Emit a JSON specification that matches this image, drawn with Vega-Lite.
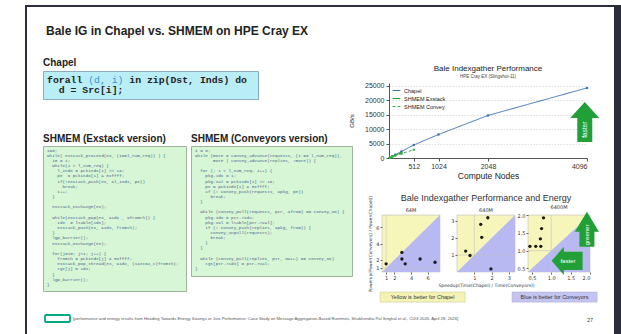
{
  "$schema": "https://vega.github.io/schema/vega-lite/v6.json",
  "background": "white",
  "padding": {"left": 25, "top": 5, "right": 0, "bottom": 0},
  "config": {
    "view": {"stroke": null},
    "font": "Liberation Sans",
    "title": {"color": "#222", "font": "Liberation Sans"},
    "axis": {"labelFont": "Liberation Sans", "titleFont": "Liberation Sans", "tickCount": 10},
    "legend": {"labelFont": "Liberation Sans"}
  },
  "datasets": {
    "perf": [
      {"series": "Chapel", "nodes": 16, "gbs": 130},
      {"series": "Chapel", "nodes": 32, "gbs": 270},
      {"series": "Chapel", "nodes": 64, "gbs": 560},
      {"series": "Chapel", "nodes": 128, "gbs": 1150},
      {"series": "Chapel", "nodes": 256, "gbs": 2250},
      {"series": "Chapel", "nodes": 512, "gbs": 4500},
      {"series": "Chapel", "nodes": 1024, "gbs": 8150},
      {"series": "Chapel", "nodes": 2048, "gbs": 14750},
      {"series": "Chapel", "nodes": 4096, "gbs": 24300},
      {"series": "SHMEM Exstack", "nodes": 16, "gbs": 120},
      {"series": "SHMEM Exstack", "nodes": 32, "gbs": 240},
      {"series": "SHMEM Exstack", "nodes": 64, "gbs": 480},
      {"series": "SHMEM Exstack", "nodes": 128, "gbs": 950},
      {"series": "SHMEM Exstack", "nodes": 256, "gbs": 1800},
      {"series": "SHMEM Convey", "nodes": 16, "gbs": 110},
      {"series": "SHMEM Convey", "nodes": 32, "gbs": 220},
      {"series": "SHMEM Convey", "nodes": 64, "gbs": 420},
      {"series": "SHMEM Convey", "nodes": 128, "gbs": 820},
      {"series": "SHMEM Convey", "nodes": 256, "gbs": 1500},
      {"series": "SHMEM Convey", "nodes": 512, "gbs": 2900}
    ],
    "ig": [
      {"panel": "64M", "speedup": 1.0, "powerup": 1.5},
      {"panel": "64M", "speedup": 2.9, "powerup": 2.9},
      {"panel": "64M", "speedup": 2.9, "powerup": 2.1},
      {"panel": "64M", "speedup": 3.3, "powerup": 1.5},
      {"panel": "64M", "speedup": 5.1, "powerup": 2.1},
      {"panel": "64M", "speedup": 6.9, "powerup": 1.7},
      {"panel": "640M", "speedup": 0.5, "powerup": 1.23},
      {"panel": "640M", "speedup": 0.75, "powerup": 0.97},
      {"panel": "640M", "speedup": 1.37, "powerup": 2.8},
      {"panel": "640M", "speedup": 1.43, "powerup": 2.04},
      {"panel": "640M", "speedup": 1.78, "powerup": 3.19},
      {"panel": "640M", "speedup": 1.96, "powerup": 0.18},
      {"panel": "6400M", "speedup": 0.45, "powerup": 1.12},
      {"panel": "6400M", "speedup": 0.6, "powerup": 1.12},
      {"panel": "6400M", "speedup": 0.73, "powerup": 1.12},
      {"panel": "6400M", "speedup": 0.72, "powerup": 1.33},
      {"panel": "6400M", "speedup": 0.75, "powerup": 1.62},
      {"panel": "6400M", "speedup": 0.8, "powerup": 1.92}
    ],
    "chapel_code": [
      {"line": 1, "col": 0, "role": "code", "code": "forall"},
      {"line": 1, "col": 7, "role": "index", "code": "(d, i)"},
      {"line": 1, "col": 14, "role": "code", "code": "in zip(Dst, Inds) do"},
      {"line": 2, "col": 2, "role": "code", "code": "d = Src[i];"}
    ],
    "exstack_code": [
      {"line": 1, "code": "i=0;"},
      {"line": 2, "code": "while( exstack_proceed(ex, (i==l_num_req)) ) {"},
      {"line": 3, "code": "\u200b\u00a0\u00a0i0 = i;"},
      {"line": 4, "code": "\u200b\u00a0\u00a0while(i < l_num_req) {"},
      {"line": 5, "code": "\u200b\u00a0\u00a0\u00a0\u00a0l_indx = pckindx[i] >> 16;"},
      {"line": 6, "code": "\u200b\u00a0\u00a0\u00a0\u00a0pe\u00a0\u00a0= pckindx[i] & 0xffff;"},
      {"line": 7, "code": "\u200b\u00a0\u00a0\u00a0\u00a0if(!exstack_push(ex, &l_indx, pe))"},
      {"line": 8, "code": "\u200b\u00a0\u00a0\u00a0\u00a0\u00a0\u00a0break;"},
      {"line": 9, "code": "\u200b\u00a0\u00a0\u00a0\u00a0i++;"},
      {"line": 10, "code": "\u200b\u00a0\u00a0}"},
      {"line": 12, "code": "\u200b\u00a0\u00a0exstack_exchange(ex);"},
      {"line": 14, "code": "\u200b\u00a0\u00a0while(exstack_pop(ex, &idx , &fromth)) {"},
      {"line": 15, "code": "\u200b\u00a0\u00a0\u00a0\u00a0idx\u00a0\u00a0= ltable[idx];"},
      {"line": 16, "code": "\u200b\u00a0\u00a0\u00a0\u00a0exstack_push(ex, &idx, fromth);"},
      {"line": 17, "code": "\u200b\u00a0\u00a0}"},
      {"line": 18, "code": "\u200b\u00a0\u00a0lgp_barrier();"},
      {"line": 19, "code": "\u200b\u00a0\u00a0exstack_exchange(ex);"},
      {"line": 21, "code": "\u200b\u00a0\u00a0for(j=i0; j<i; j++) {"},
      {"line": 22, "code": "\u200b\u00a0\u00a0\u00a0\u00a0fromth = pckindx[j] & 0xffff;"},
      {"line": 23, "code": "\u200b\u00a0\u00a0\u00a0\u00a0exstack_pop_thread(ex, &idx, (uint64_t)fromth);"},
      {"line": 24, "code": "\u200b\u00a0\u00a0\u00a0\u00a0tgt[j] = idx;"},
      {"line": 25, "code": "\u200b\u00a0\u00a0}"},
      {"line": 26, "code": "\u200b\u00a0\u00a0lgp_barrier();"},
      {"line": 27, "code": "}"}
    ],
    "conveyors_code": [
      {"line": 1, "code": "i = 0;"},
      {"line": 2, "code": "while (more = convey_advance(requests, (i == l_num_req)),"},
      {"line": 3, "code": "\u200b\u00a0\u00a0\u00a0\u00a0\u00a0\u00a0\u00a0more | convey_advance(replies, !more)) {"},
      {"line": 5, "code": "\u200b\u00a0\u00a0for (; i < l_num_req; i++) {"},
      {"line": 6, "code": "\u200b\u00a0\u00a0\u00a0\u00a0pkg.idx = i;"},
      {"line": 7, "code": "\u200b\u00a0\u00a0\u00a0\u00a0pkg.val = pckindx[i] >> 16;"},
      {"line": 8, "code": "\u200b\u00a0\u00a0\u00a0\u00a0pe = pckindx[i] & 0xffff;"},
      {"line": 9, "code": "\u200b\u00a0\u00a0\u00a0\u00a0if (! convey_push(requests, &pkg, pe))"},
      {"line": 10, "code": "\u200b\u00a0\u00a0\u00a0\u00a0\u00a0\u00a0break;"},
      {"line": 11, "code": "\u200b\u00a0\u00a0}"},
      {"line": 13, "code": "\u200b\u00a0\u00a0while (convey_pull(requests, ptr, &from) == convey_OK) {"},
      {"line": 14, "code": "\u200b\u00a0\u00a0\u00a0\u00a0pkg.idx = ptr->idx;"},
      {"line": 15, "code": "\u200b\u00a0\u00a0\u00a0\u00a0pkg.val = ltable[ptr->val];"},
      {"line": 16, "code": "\u200b\u00a0\u00a0\u00a0\u00a0if (! convey_push(replies, &pkg, from)) {"},
      {"line": 17, "code": "\u200b\u00a0\u00a0\u00a0\u00a0\u00a0\u00a0convey_unpull(requests);"},
      {"line": 18, "code": "\u200b\u00a0\u00a0\u00a0\u00a0\u00a0\u00a0break;"},
      {"line": 19, "code": "\u200b\u00a0\u00a0\u00a0\u00a0}"},
      {"line": 20, "code": "\u200b\u00a0\u00a0}"},
      {"line": 22, "code": "\u200b\u00a0\u00a0while (convey_pull(replies, ptr, NULL) == convey_OK)"},
      {"line": 23, "code": "\u200b\u00a0\u00a0\u00a0\u00a0tgt[ptr->idx] = ptr->val;"},
      {"line": 24, "code": "}"}
    ]
  },
  "bounds": "flush",
  "spacing": 0,
  "resolve": {"scale": {"color": "independent", "strokeDash": "independent"}, "legend": {"color": "independent", "strokeDash": "independent"}},
  "hconcat": [
    {
      "bounds": "flush",
      "spacing": 0,
      "vconcat": [
        {"width": 596, "height": 2, "view": {"fill": "#2b2d3a"}, "mark": "point", "data": {"values": []}},
        {
          "bounds": "flush",
          "spacing": 587,
          "hconcat": [
            {"width": 2, "height": 330, "view": {"fill": "#2b2d3a"}, "mark": "point", "data": {"values": []}},
            {"width": 7, "height": 330, "view": {"fill": "#2b2d3a"}, "mark": "point", "data": {"values": []}}
          ]
        }
      ]
    },
    {"width": 18, "height": 1, "mark": "point", "data": {"values": []}},
    {
      "bounds": "flush",
      "spacing": 0,
      "vconcat": [
        {
          "width": 270, "height": 52,
          "data": {"values": [{"t": "Bale IG in Chapel vs. SHMEM on HPE Cray EX"}]},
          "mark": {"type": "text", "align": "left", "baseline": "middle", "fontSize": 12, "fontWeight": "bold", "color": "#222", "dx": 3},
          "encoding": {"x": {"datum": 0, "scale": {"domain": [0, 1]}, "axis": null}, "text": {"field": "t"}}
        },
        {"width": 1, "height": 14, "mark": "point", "data": {"values": []}},
        {
          "width": 215, "height": 28,
          "view": {"fill": "#b9eef6", "stroke": "#8aaebd", "strokeWidth": 1},
          "title": {"text": "Chapel", "anchor": "start", "fontSize": 10, "fontWeight": "bold", "offset": 3},
          "data": {"name": "chapel_code"},
          "encoding": {
            "x": {"field": "col", "type": "quantitative", "scale": {"domain": [0, 36.56]}, "axis": null},
            "y": {"field": "line", "type": "quantitative", "scale": {"domain": [0.15, 2.95], "reverse": true}, "axis": null},
            "text": {"field": "code"}
          },
          "layer": [
            {
              "transform": [{"filter": "datum.role === 'code'"}],
              "mark": {"type": "text", "align": "left", "baseline": "middle", "font": "Liberation Mono", "fontSize": 9.8, "fontWeight": "bold", "color": "#222", "dx": 4}
            },
            {
              "transform": [{"filter": "datum.role === 'index'"}],
              "mark": {"type": "text", "align": "left", "baseline": "middle", "font": "Liberation Mono", "fontSize": 9.8, "fontWeight": "normal", "color": "#3b8fd9", "dx": 4}
            }
          ]
        },
        {"width": 1, "height": 47, "mark": "point", "data": {"values": []}},
        {
          "bounds": "flush",
          "spacing": 5,
          "hconcat": [
            {
              "width": 143, "height": 145,
              "view": {"fill": "#d6f6d6", "stroke": "#9db59d", "strokeWidth": 1},
              "title": {"text": "SHMEM (Exstack version)", "anchor": "start", "fontSize": 10, "fontWeight": "bold", "offset": 2},
              "data": {"name": "exstack_code"},
              "mark": {"type": "text", "align": "left", "baseline": "middle", "font": "Liberation Mono", "fontSize": 4.3, "color": "#4d5f8c", "dx": 4},
              "encoding": {
                "x": {"datum": 0, "scale": {"domain": [0, 1]}, "axis": null},
                "y": {"field": "line", "type": "quantitative", "scale": {"domain": [0.09, 28.19], "reverse": true}, "axis": null},
                "text": {"field": "code"}
              }
            },
            {
              "width": 161, "height": 130,
              "view": {"fill": "#d6f6d6", "stroke": "#9db59d", "strokeWidth": 1},
              "title": {"text": "SHMEM (Conveyors version)", "anchor": "start", "fontSize": 10, "fontWeight": "bold", "offset": 2},
              "data": {"name": "conveyors_code"},
              "mark": {"type": "text", "align": "left", "baseline": "middle", "font": "Liberation Mono", "fontSize": 4.3, "color": "#4d5f8c", "dx": 4},
              "encoding": {
                "x": {"datum": 0, "scale": {"domain": [0, 1]}, "axis": null},
                "y": {"field": "line", "type": "quantitative", "scale": {"domain": [0.09, 25.37], "reverse": true}, "axis": null},
                "text": {"field": "code"}
              }
            }
          ]
        },
        {"width": 1, "height": 169, "mark": "point", "data": {"values": []}},
        {
          "bounds": "flush",
          "spacing": 0,
          "hconcat": [
            {"width": 2, "height": 1, "mark": "point", "data": {"values": []}},
            {"width": 25, "height": 7, "view": {"stroke": "#01a982", "strokeWidth": 1.8, "cornerRadius": 1}, "mark": "point", "data": {"values": []}},
            {"width": 3, "height": 1, "mark": "point", "data": {"values": []}},
            {
              "width": 10, "height": 7,
              "data": {"values": [{"t": "[performance and energy results from Heading Towards Energy Savings or Just Performance: Case Study on Message Aggregation-Based Runtimes, Shubhendra Pal Singhal et al., CUG 2026, April 28, 2026]"}]},
              "mark": {"type": "text", "align": "left", "baseline": "middle", "fontSize": 4.2, "color": "#555"},
              "encoding": {"x": {"datum": 0, "scale": {"domain": [0, 1]}, "axis": null}, "text": {"field": "t"}}
            }
          ]
        }
      ]
    },
    {"width": 337, "height": 1, "mark": "point", "data": {"values": []}},
    {
      "bounds": "flush",
      "spacing": 0,
      "resolve": {"scale": {"color": "independent", "strokeDash": "independent"}, "legend": {"color": "independent", "strokeDash": "independent"}},
      "vconcat": [
        {"width": 1, "height": 78, "mark": "point", "data": {"values": []}},
        {
          "bounds": "flush",
          "spacing": 0,
          "resolve": {"scale": {"color": "independent", "strokeDash": "independent"}, "legend": {"color": "independent", "strokeDash": "independent"}},
          "hconcat": [
            {"width": 9, "height": 1, "mark": "point", "data": {"values": []}},
            {
              "width": 198, "height": 75,
              "title": {"text": "Bale Indexgather Performance", "subtitle": "HPE Cray EX (Slingshot-11)", "fontSize": 8, "fontWeight": "normal", "subtitleFontSize": 4.5, "subtitleColor": "#444", "subtitleFont": "Liberation Sans", "subtitlePadding": 1, "offset": 3, "anchor": "middle"},
              "layer": [
                {
                  "data": {"name": "perf"},
                  "mark": {"type": "line", "strokeWidth": 1, "point": {"filled": true, "size": 6}},
                  "encoding": {
                    "x": {"field": "nodes", "type": "quantitative", "scale": {"domain": [0, 4096], "nice": false},
                      "axis": {"values": [512, 1024, 2048, 4096], "tickCount": 10, "format": "d", "labelOverlap": false, "title": "Compute Nodes", "titleFontSize": 8.5, "titleFontWeight": "normal", "titleColor": "#222", "titlePadding": 2, "labelFontSize": 7, "labelColor": "#333", "labelPadding": 1, "tickSize": 3, "tickColor": "#555", "domainColor": "#555", "grid": false}},
                    "y": {"field": "gbs", "type": "quantitative", "scale": {"domain": [0, 26000], "nice": false},
                      "axis": {"values": [0, 5000, 10000, 15000, 20000, 25000], "tickCount": 10, "format": "d", "labelOverlap": false, "title": "GB/s", "titleFontSize": 6, "titleFontWeight": "normal", "titleColor": "#222", "titlePadding": 10, "labelFontSize": 7, "labelColor": "#333", "labelPadding": 2, "tickSize": 3, "tickColor": "#555", "domainColor": "#555", "grid": true, "gridColor": "#c8c8c8", "gridDash": [1.5, 1.5], "gridWidth": 0.6}},
                    "color": {"field": "series", "type": "nominal", "scale": {"domain": ["Chapel", "SHMEM Exstack", "SHMEM Convey"], "range": ["#3b73b5", "#1f9a2a", "#38b249"]},
                      "legend": {"title": null, "orient": "top-left", "offset": 3, "labelFontSize": 5.5, "labelColor": "#222", "symbolSize": 60, "symbolStrokeWidth": 1.2, "rowPadding": 0, "padding": 0, "labelOffset": 3, "symbolType": "stroke"}},
                    "strokeDash": {"field": "series", "type": "nominal", "scale": {"domain": ["Chapel", "SHMEM Exstack", "SHMEM Convey"], "range": [[1, 0], [1, 0], [3, 2]]},
                      "legend": {"title": null, "orient": "top-left", "offset": 3, "labelFontSize": 5.5, "labelColor": "#222", "symbolSize": 60, "symbolStrokeWidth": 1.2, "rowPadding": 0, "padding": 0, "labelOffset": 3, "symbolType": "stroke"}}
                  }
                },
                {
                  "data": {"values": [{}]},
                  "mark": {"type": "point", "shape": "M-0.375,1L0.375,1L0.375,-0.2L0.725,-0.2L0,-1L-0.725,-0.2L-0.375,-0.2Z", "size": 1600, "filled": true, "color": "#21a038", "opacity": 1, "strokeWidth": 0},
                  "encoding": {"x": {"datum": 4050}, "y": {"datum": 12480}}
                },
                {
                  "data": {"values": [{"t": "faster"}]},
                  "mark": {"type": "text", "angle": 270, "fontSize": 6.5, "color": "white", "align": "center", "baseline": "middle"},
                  "encoding": {"x": {"datum": 4050}, "y": {"datum": 9800}, "text": {"field": "t"}}
                }
              ]
            }
          ]
        },
        {"width": 1, "height": 132, "mark": "point", "data": {"values": []}},
        {
          "bounds": "flush",
          "spacing": 0,
          "hconcat": [
            {"width": 2, "height": 1, "mark": "point", "data": {"values": []}},
            {
              "width": 58, "height": 57,
              "view": {"fill": "#f6f5ba", "stroke": "#b0b0b0", "strokeWidth": 0.5},
              "layer": [
                {
                  "data": {"values": [{"d": 0.5}, {"d": 7.5}]},
                  "mark": {"type": "area", "color": "#b8b8f2", "opacity": 1},
                  "encoding": {
                    "x": {"field": "d", "type": "quantitative", "scale": {"domain": [0.5, 7.5], "nice": false, "zero": false},
                      "axis": {"values": [1, 2, 4, 6], "format": "d", "tickCount": 10, "title": null, "labelFontSize": 5, "labelFont": "DejaVu Sans", "labelColor": "#333", "tickSize": 2, "labelPadding": 1, "domain": false, "tickColor": "#666", "grid": false, "labelOverlap": false}},
                    "y": {"field": "d", "type": "quantitative", "scale": {"domain": [0.5, 7.5], "nice": false, "zero": false},
                      "axis": {"values": [1, 2, 4, 6], "format": "d", "tickCount": 10, "title": "Powerup(Power(Conveyors) / Power(Chapel))", "titleFontSize": 4.3, "titleFont": "DejaVu Sans", "titleFontWeight": "normal", "titleColor": "#333", "titlePadding": 3, "labelFontSize": 5, "labelFont": "DejaVu Sans", "labelColor": "#333", "tickSize": 2, "labelPadding": 1, "domain": false, "tickColor": "#666", "grid": false, "labelOverlap": false}},
                    "y2": {"datum": 0.5}
                  }
                },
                {"data": {"values": [{}]}, "mark": {"type": "rule", "color": "#c4c4c4", "strokeWidth": 0.6}, "encoding": {"x": {"datum": 1}}},
                {"data": {"values": [{}]}, "mark": {"type": "rule", "color": "#c4c4c4", "strokeWidth": 0.6}, "encoding": {"y": {"datum": 1}}},
                {
                  "data": {"name": "ig"},
                  "transform": [{"filter": "datum.panel === '64M'"}],
                  "mark": {"type": "circle", "size": 11, "color": "#1b1b1b", "opacity": 1},
                  "encoding": {"x": {"field": "speedup", "type": "quantitative"}, "y": {"field": "powerup", "type": "quantitative"}}
                },
                {
                  "data": {"values": [{"t": "64M"}]},
                  "mark": {"type": "text", "fontSize": 5, "font": "DejaVu Sans", "color": "#333", "align": "center", "baseline": "bottom", "dy": -2},
                  "encoding": {"x": {"datum": 4}, "y": {"datum": 7.5}, "text": {"field": "t"}}
                }
              ]
            },
            {"width": 17, "height": 1, "mark": "point", "data": {"values": []}},
            {
              "width": 58, "height": 57,
              "view": {"fill": "#f6f5ba", "stroke": "#b0b0b0", "strokeWidth": 0.5},
              "title": {"text": "Bale Indexgather Performance and Energy", "subtitle": "640M", "fontSize": 9, "fontWeight": "normal", "color": "#333", "subtitleFontSize": 5, "subtitleFont": "DejaVu Sans", "subtitleColor": "#333", "subtitlePadding": 5, "offset": 2, "anchor": "middle"},
              "layer": [
                {
                  "data": {"values": [{"d": 0}, {"d": 3.35}]},
                  "mark": {"type": "area", "color": "#b8b8f2", "opacity": 1},
                  "encoding": {
                    "x": {"field": "d", "type": "quantitative", "scale": {"domain": [0, 3.35], "nice": false, "zero": false},
                      "axis": {"values": [1, 2, 3], "format": "d", "tickCount": 10, "title": "Speedup(Time(Chapel) / Time(Conveyors))", "titleFontSize": 4.5, "titleFont": "DejaVu Sans", "titleFontWeight": "normal", "titleColor": "#333", "titlePadding": 2, "labelFontSize": 5, "labelFont": "DejaVu Sans", "labelColor": "#333", "tickSize": 2, "labelPadding": 1, "domain": false, "tickColor": "#666", "grid": false, "labelOverlap": false}},
                    "y": {"field": "d", "type": "quantitative", "scale": {"domain": [0, 3.35], "nice": false, "zero": false},
                      "axis": {"values": [1, 2, 3], "format": "d", "tickCount": 10, "title": null, "labelFontSize": 5, "labelFont": "DejaVu Sans", "labelColor": "#333", "tickSize": 2, "labelPadding": 1, "domain": false, "tickColor": "#666", "grid": false, "labelOverlap": false}},
                    "y2": {"datum": 0}
                  }
                },
                {"data": {"values": [{}]}, "mark": {"type": "rule", "color": "#c4c4c4", "strokeWidth": 0.6}, "encoding": {"x": {"datum": 1}}},
                {"data": {"values": [{}]}, "mark": {"type": "rule", "color": "#c4c4c4", "strokeWidth": 0.6}, "encoding": {"y": {"datum": 1}}},
                {
                  "data": {"name": "ig"},
                  "transform": [{"filter": "datum.panel === '640M'"}],
                  "mark": {"type": "circle", "size": 11, "color": "#1b1b1b", "opacity": 1},
                  "encoding": {"x": {"field": "speedup", "type": "quantitative"}, "y": {"field": "powerup", "type": "quantitative"}}
                }
              ]
            },
            {"width": 13, "height": 1, "mark": "point", "data": {"values": []}},
            {
              "width": 62, "height": 57,
              "view": {"fill": "#f6f5ba", "stroke": "#b0b0b0", "strokeWidth": 0.5},
              "title": {"text": "6400M", "fontSize": 5, "fontWeight": "normal", "font": "DejaVu Sans", "offset": 2, "color": "#333"},
              "layer": [
                {
                  "data": {"values": [{"d": 0.4}, {"d": 2.0}]},
                  "mark": {"type": "area", "color": "#b8b8f2", "opacity": 1},
                  "encoding": {
                    "x": {"field": "d", "type": "quantitative", "scale": {"domain": [0.4, 2.0], "nice": false, "zero": false},
                      "axis": {"values": [0.5, 1.0, 1.5, 2.0], "tickCount": 10, "format": ".1f", "title": null, "labelFontSize": 5, "labelFont": "DejaVu Sans", "labelColor": "#333", "tickSize": 2, "labelPadding": 1, "domain": false, "tickColor": "#666", "grid": false, "labelOverlap": false}},
                    "y": {"field": "d", "type": "quantitative", "scale": {"domain": [0.4, 2.0], "nice": false, "zero": false},
                      "axis": {"values": [0.5, 1.0, 1.5, 2.0], "tickCount": 10, "format": ".1f", "title": null, "labelFontSize": 5, "labelFont": "DejaVu Sans", "labelColor": "#333", "tickSize": 2, "labelPadding": 1, "domain": false, "tickColor": "#666", "grid": false, "labelOverlap": false}},
                    "y2": {"datum": 0.4}
                  }
                },
                {"data": {"values": [{}]}, "mark": {"type": "rule", "color": "#c4c4c4", "strokeWidth": 0.6}, "encoding": {"x": {"datum": 1}}},
                {"data": {"values": [{}]}, "mark": {"type": "rule", "color": "#c4c4c4", "strokeWidth": 0.6}, "encoding": {"y": {"datum": 1}}},
                {
                  "data": {"name": "ig"},
                  "transform": [{"filter": "datum.panel === '6400M'"}],
                  "mark": {"type": "circle", "size": 11, "color": "#1b1b1b", "opacity": 1},
                  "encoding": {"x": {"field": "speedup", "type": "quantitative"}, "y": {"field": "powerup", "type": "quantitative"}}
                },
                {
                  "data": {"values": [{}]},
                  "mark": {"type": "point", "shape": "M-0.43,1L0.43,1L0.43,0.14L0.69,0.14L0,-1L-0.69,0.14L-0.43,0.14Z", "size": 1225, "filled": true, "color": "#21a038", "opacity": 1, "strokeWidth": 0},
                  "encoding": {"x": {"datum": 1.92}, "y": {"datum": 1.6}}
                },
                {
                  "data": {"values": [{}]},
                  "mark": {"type": "point", "shape": "M1,-0.59L1,0.59L-0.21,0.59L-0.21,0.91L-1,0L-0.21,-0.91L-0.21,-0.59Z", "size": 961, "filled": true, "color": "#21a038", "opacity": 1, "strokeWidth": 0},
                  "encoding": {"x": {"datum": 1.41}, "y": {"datum": 0.713}}
                },
                {
                  "data": {"values": [{"t": "greener"}]},
                  "mark": {"type": "text", "angle": 270, "fontSize": 6, "color": "white", "align": "center", "baseline": "middle"},
                  "encoding": {"x": {"datum": 1.92}, "y": {"datum": 1.44}, "text": {"field": "t"}}
                },
                {
                  "data": {"values": [{"t": "faster"}]},
                  "mark": {"type": "text", "fontSize": 6, "color": "white", "align": "center", "baseline": "middle"},
                  "encoding": {"x": {"datum": 1.43}, "y": {"datum": 0.71}, "text": {"field": "t"}}
                }
              ]
            }
          ]
        },
        {"width": 1, "height": 77, "mark": "point", "data": {"values": []}},
        {
          "bounds": "flush",
          "spacing": 0,
          "hconcat": [
            {
              "width": 85, "height": 10,
              "view": {"fill": "#f5f3b4", "stroke": "#c9c79a", "strokeWidth": 0.6},
              "data": {"values": [{"t": "Yellow is better for Chapel"}]},
              "mark": {"type": "text", "fontSize": 5.5, "color": "#333"},
              "encoding": {"text": {"field": "t"}}
            },
            {"width": 47, "height": 1, "mark": "point", "data": {"values": []}},
            {
              "width": 85, "height": 10,
              "view": {"fill": "#c4c4f2", "stroke": "#a9a9d0", "strokeWidth": 0.6},
              "data": {"values": [{"t": "Blue is better for Conveyors"}]},
              "mark": {"type": "text", "fontSize": 5.5, "color": "#333"},
              "encoding": {"text": {"field": "t"}}
            }
          ]
        },
        {"width": 1, "height": 23, "mark": "point", "data": {"values": []}},
        {
          "bounds": "flush",
          "spacing": 0,
          "hconcat": [
            {"width": 205, "height": 1, "mark": "point", "data": {"values": []}},
            {
              "width": 10, "height": 10,
              "data": {"values": [{"t": "27"}]},
              "mark": {"type": "text", "fontSize": 5.5, "color": "#444"},
              "encoding": {"text": {"field": "t"}}
            }
          ]
        }
      ]
    }
  ]
}
